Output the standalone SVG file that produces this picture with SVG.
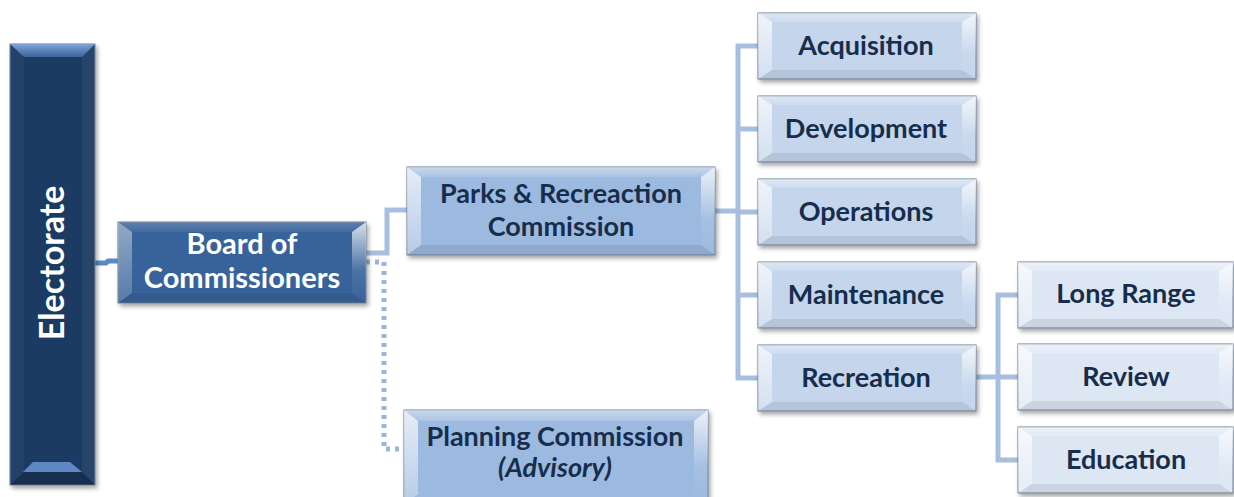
<svg xmlns="http://www.w3.org/2000/svg" width="1234" height="497" viewBox="0 0 1234 497">
<defs>
  <filter id="sh" x="-10%" y="-10%" width="125%" height="130%">
    <feDropShadow dx="2" dy="3" stdDeviation="2" flood-color="#000" flood-opacity="0.35"/>
  </filter>
  <linearGradient id="gL" x1="0" y1="0" x2="0" y2="1">
    <stop offset="0" stop-color="#fff" stop-opacity="0.75"/>
    <stop offset="1" stop-color="#fff" stop-opacity="0.25"/>
  </linearGradient>
  <linearGradient id="gR" x1="0" y1="0" x2="0" y2="1">
    <stop offset="0" stop-color="#fff" stop-opacity="0.8"/>
    <stop offset="0.6" stop-color="#fff" stop-opacity="0.1"/>
    <stop offset="1" stop-color="#fff" stop-opacity="0"/>
  </linearGradient>
  <linearGradient id="gT" x1="0" y1="0" x2="0" y2="1">
    <stop offset="0" stop-color="#fff" stop-opacity="0.45"/>
    <stop offset="1" stop-color="#fff" stop-opacity="0.15"/>
  </linearGradient>
  <linearGradient id="gE" x1="0" y1="0" x2="0" y2="1">
    <stop offset="0" stop-color="#7ea3d6"/>
    <stop offset="1" stop-color="#3d6599"/>
  </linearGradient>
</defs>
<style>
  .conn { fill: none; stroke: #a7bedf; stroke-width: 5; }
  .conn-e { fill: none; stroke: #5a8ac6; stroke-width: 5; }
  .dot { fill: none; stroke: #9ab6dc; stroke-width: 5; stroke-dasharray: 4 5; }
  .box { stroke: #6f7f93; stroke-width: 1; }
  .bl { fill: url(#gL); }
  .br { fill: url(#gR); }
  .bt { fill: url(#gT); }
  .bb { fill: #000; fill-opacity: 0.08; }
  .lbl { font-family: Lato, "Liberation Sans", sans-serif; font-weight: 700; text-anchor: middle; }
  .dk { fill: #162d4c; font-size: 27px; }
  .wt { fill: #ffffff; }
  .f-e { fill: #1c3a64; }
  .f-b { fill: #38649a; }
  .f-p { fill: #9cb9df; }
  .f-3 { fill: #c4d5ec; }
  .f-4 { fill: #dde7f4; }
</style>

<g id="connectors">
  <path class="conn-e" d="M95,263 L106,263 L108,261 L118,261"/>
  <path class="conn" d="M366,253 L387,253 L387,210 L407,210"/>
  <path class="dot" d="M366,262 L384,262 L384,449 L404,449"/>
  <path class="conn" d="M715,211 L738,211"/>
  <path class="conn" d="M758,46 L738,46 L738,378 L758,378"/>
  <path class="conn" d="M738,129 L758,129"/>
  <path class="conn" d="M738,212 L758,212"/>
  <path class="conn" d="M738,295 L758,295"/>
  <path class="conn" d="M976,377 L1018,377"/>
  <path class="conn" d="M1018,295 L998,295 L998,460 L1018,460"/>
</g>

<g id="electorate" transform="translate(10,44)">
  <rect class="box f-e" width="85" height="441" filter="url(#sh)"/>
  <polygon points="0,0 85,0 72,13 14,13" fill="url(#gE)"/>
  <polygon points="0,0 14,13 14,428 0,441" fill="#fff" fill-opacity="0.04"/>
  <polygon points="85,0 72,13 72,428 85,441" fill="#fff" fill-opacity="0.05"/>
  <polygon points="0,441 85,441 72,428 14,428" fill="#000" fill-opacity="0.2"/>
  <polygon points="13,428 72,428 60,418 23,418" fill="#5d88c4"/>
  <text class="lbl wt" font-size="34" transform="translate(54,219) rotate(-90)">Electorate</text>
</g>

<g id="board" transform="translate(118,222)">
  <rect class="box f-b" width="248" height="81" filter="url(#sh)"/>
  <polygon class="bt" points="0,0 248,0 234,10 14,10" opacity="0.4"/>
  <polygon class="bl" points="0,0 14,10 14,71 0,81" opacity="0.6"/>
  <polygon class="br" points="248,0 234,10 234,71 248,81"/>
  <polygon class="bb" points="0,81 248,81 234,71 14,71"/>
  <text class="lbl wt" font-size="29" x="124" y="32">Board of</text>
  <text class="lbl wt" font-size="29" x="124" y="66">Commissioners</text>
</g>

<g id="parks" transform="translate(407,167)">
  <rect class="box f-p" width="308" height="88" filter="url(#sh)"/>
  <polygon class="bt" points="0,0 308,0 294,10 14,10"/>
  <polygon class="bl" points="0,0 14,10 14,78 0,88"/>
  <polygon class="br" points="308,0 294,10 294,78 308,88"/>
  <polygon class="bb" points="0,88 308,88 294,78 14,78"/>
  <text class="lbl dk" x="154" y="36">Parks &amp; Recreaction</text>
  <text class="lbl dk" x="154" y="69">Commission</text>
</g>

<g id="planning" transform="translate(404,410)">
  <rect class="box f-p" width="304" height="95" filter="url(#sh)"/>
  <polygon class="bt" points="0,0 304,0 290,11 14,11"/>
  <polygon class="bl" points="0,0 14,11 14,84 0,95"/>
  <polygon class="br" points="304,0 290,11 290,84 304,95"/>
  <text class="lbl dk" x="151" y="36">Planning Commission</text>
  <text class="lbl dk" x="151" y="67" font-size="22.5" font-style="italic">(Advisory)</text>
</g>

<g id="acquisition" transform="translate(758,13)">
  <rect class="box f-3" width="218" height="66" filter="url(#sh)"/>
  <polygon class="bt" points="0,0 218,0 204,9 14,9"/>
  <polygon class="bl" points="0,0 14,9 14,57 0,66"/>
  <polygon class="br" points="218,0 204,9 204,57 218,66"/>
  <polygon class="bb" points="0,66 218,66 204,57 14,57"/>
  <text class="lbl dk" x="108" y="42">Acquisition</text>
</g>

<g id="development" transform="translate(758,96)">
  <rect class="box f-3" width="218" height="66" filter="url(#sh)"/>
  <polygon class="bt" points="0,0 218,0 204,9 14,9"/>
  <polygon class="bl" points="0,0 14,9 14,57 0,66"/>
  <polygon class="br" points="218,0 204,9 204,57 218,66"/>
  <polygon class="bb" points="0,66 218,66 204,57 14,57"/>
  <text class="lbl dk" x="108" y="42">Development</text>
</g>

<g id="operations" transform="translate(758,179)">
  <rect class="box f-3" width="218" height="66" filter="url(#sh)"/>
  <polygon class="bt" points="0,0 218,0 204,9 14,9"/>
  <polygon class="bl" points="0,0 14,9 14,57 0,66"/>
  <polygon class="br" points="218,0 204,9 204,57 218,66"/>
  <polygon class="bb" points="0,66 218,66 204,57 14,57"/>
  <text class="lbl dk" x="108" y="42">Operations</text>
</g>

<g id="maintenance" transform="translate(758,262)">
  <rect class="box f-3" width="218" height="66" filter="url(#sh)"/>
  <polygon class="bt" points="0,0 218,0 204,9 14,9"/>
  <polygon class="bl" points="0,0 14,9 14,57 0,66"/>
  <polygon class="br" points="218,0 204,9 204,57 218,66"/>
  <polygon class="bb" points="0,66 218,66 204,57 14,57"/>
  <text class="lbl dk" x="108" y="42">Maintenance</text>
</g>

<g id="recreation" transform="translate(758,345)">
  <rect class="box f-3" width="218" height="66" filter="url(#sh)"/>
  <polygon class="bt" points="0,0 218,0 204,9 14,9"/>
  <polygon class="bl" points="0,0 14,9 14,57 0,66"/>
  <polygon class="br" points="218,0 204,9 204,57 218,66"/>
  <polygon class="bb" points="0,66 218,66 204,57 14,57"/>
  <text class="lbl dk" x="108" y="42">Recreation</text>
</g>

<g id="long-range" transform="translate(1018,262)">
  <rect class="box f-4" width="215" height="66" filter="url(#sh)"/>
  <polygon class="bt" points="0,0 215,0 201,9 14,9"/>
  <polygon class="bl" points="0,0 14,9 14,57 0,66"/>
  <polygon class="br" points="215,0 201,9 201,57 215,66"/>
  <polygon class="bb" points="0,66 215,66 201,57 14,57"/>
  <text class="lbl dk" x="108" y="41">Long Range</text>
</g>

<g id="review" transform="translate(1018,344)">
  <rect class="box f-4" width="215" height="66" filter="url(#sh)"/>
  <polygon class="bt" points="0,0 215,0 201,9 14,9"/>
  <polygon class="bl" points="0,0 14,9 14,57 0,66"/>
  <polygon class="br" points="215,0 201,9 201,57 215,66"/>
  <polygon class="bb" points="0,66 215,66 201,57 14,57"/>
  <text class="lbl dk" x="108" y="42">Review</text>
</g>

<g id="education" transform="translate(1018,427)">
  <rect class="box f-4" width="215" height="66" filter="url(#sh)"/>
  <polygon class="bt" points="0,0 215,0 201,9 14,9"/>
  <polygon class="bl" points="0,0 14,9 14,57 0,66"/>
  <polygon class="br" points="215,0 201,9 201,57 215,66"/>
  <polygon class="bb" points="0,66 215,66 201,57 14,57"/>
  <text class="lbl dk" x="108" y="42">Education</text>
</g>
</svg>
